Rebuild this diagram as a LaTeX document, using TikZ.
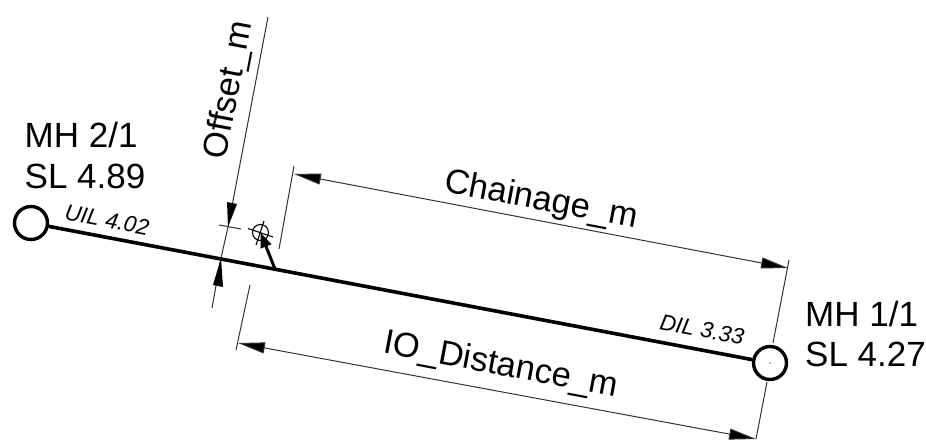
\documentclass[tikz,border=0pt]{standalone}
\usepackage{fontspec}
\setmainfont{Liberation Sans}
\usetikzlibrary{arrows.meta}
\tikzset{
  pipeline/.style={line width=3.6pt,draw=black},
  manhole/.style={circle,draw=black,line width=3.4pt,minimum size=33pt,inner sep=0pt},
  dimline/.style={line width=1pt,draw=black!80,{Triangle[length=27pt,width=11pt,fill=black]}-{Triangle[length=27pt,width=11pt,fill=black]}},
  extline/.style={line width=1pt,draw=black!80},
  biglabel/.style={font=\fontsize{35}{38}\selectfont,inner sep=0pt,anchor=base west},
  dimlabel/.style={font=\fontsize{34.5}{38}\selectfont,inner sep=0pt,rotate=-10.7},
  smalllabel/.style={font=\itshape\fontsize{22.5}{24}\selectfont,inner sep=0pt,rotate=-10.7}
}
\begin{document}
\begin{tikzpicture}[x=1pt,y=-1pt]
\useasboundingbox (0,0) rectangle (926,441);
\node[manhole] (mhA) at (31,223) {};
\node[manhole] (mhB) at (770,363) {};
\draw[pipeline] (mhA) -- (mhB);
\node[biglabel] (la) at (24.5,147) {MH 2/1};
\node[biglabel] (lb) at (24.5,188) {SL 4.89};
\node[biglabel] (lc) at (805,326) {MH 1/1};
\node[biglabel] (ld) at (805,366) {SL 4.27};
\node[smalllabel] (ua) at (107,220) {UIL 4.02};
\node[smalllabel] (da) at (702,329.5) {DIL 3.33};
\node[dimlabel] (cl) at (541,201) {Chainage\_m};
\node[dimlabel] (il) at (501,366) {IO\_Distance\_m};
\node[font=\fontsize{34.5}{38}\selectfont,inner sep=0pt,rotate=79.3] (ol) at (230,90) {Offset\_m};
% offset dimension
\coordinate (o1) at (268,17);
\coordinate (o2) at (228,227);
\coordinate (o3) at (221,258);
\coordinate (o4) at (212,308);
\draw[extline] (o1) -- (o2);
\draw[extline] (o3) -- (o4);
\draw[extline] (o2) -- (o3);
\fill (228,227) -- (227,202) -- (237,204) -- cycle;
\fill (221,258) -- (213,285) -- (223,287) -- cycle;
\coordinate (t1) at (219,225);
\coordinate (t2) at (241,229);
\draw[extline] (t1) -- (t2);
% target
\coordinate (tg) at (260.5,232.5);
\draw[line width=1.1pt] (tg) circle (8pt);
\draw[line width=1.1pt] (248,228.5) -- (273,237);
\draw[line width=1.1pt] (264,221) -- (256,245);
\coordinate (ft) at (275,269);
\draw[line width=3pt,-{Triangle[length=15pt,width=11pt]}] (ft) -- (tg);
% chainage
\coordinate (c1) at (294,166);
\coordinate (c2) at (279,249);
\coordinate (c3) at (294,174);
\coordinate (c4) at (788,268);
\coordinate (c5) at (789,260);
\coordinate (c6) at (773,343);
\draw[extline] (c1) -- (c2);
\draw[extline] (c5) -- (c6);
\draw[dimline] (c3) -- (c4);
% IO distance
\coordinate (i1) at (250,285);
\coordinate (i2) at (236,350);
\coordinate (i3) at (238,343);
\coordinate (i4) at (756,439);
\coordinate (i5) at (767,382);
\draw[extline] (i1) -- (i2);
\draw[extline] (i5) -- (i4);
\draw[dimline] (i3) -- (i4);
\fill (770,363) circle (0.6pt);
\end{tikzpicture}
\end{document}
